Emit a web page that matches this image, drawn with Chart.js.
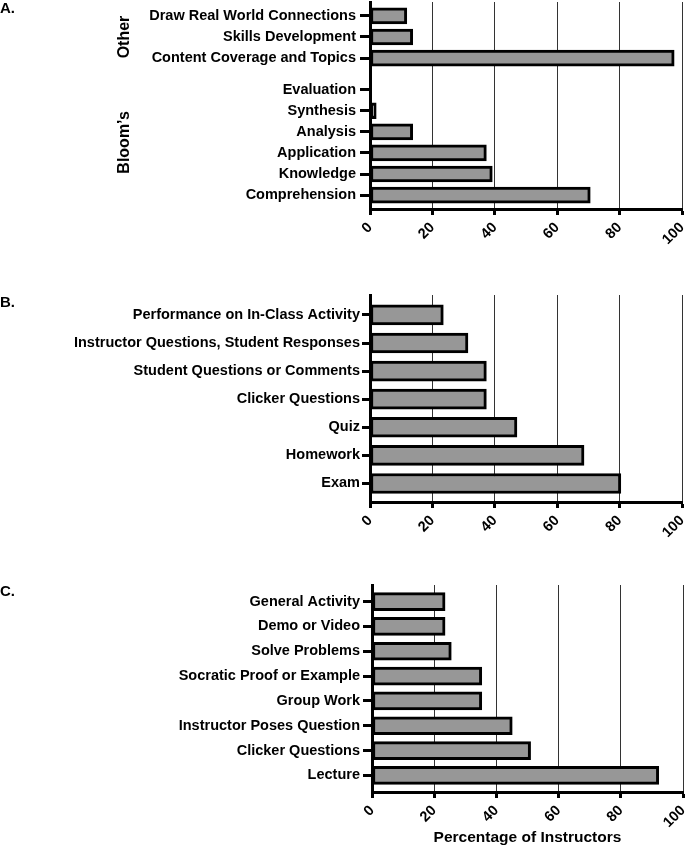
<!DOCTYPE html>
<html>
<head>
<meta charset="utf-8">
<script src="https://cdn.jsdelivr.net/npm/chart.js@4.4.0/dist/chart.umd.min.js"></script>
<style>
  body { margin: 0; background: #fff; }
  #wrap { position: relative; width: 685px; height: 847px; }
  #wrap canvas { position: absolute; left: 0; }
  .tag { position: absolute; left: 0; font: bold 15px "Liberation Sans", Arial, sans-serif; line-height: 15px; color: #000; }
</style>
</head>
<body>
<div id="wrap">
  <canvas id="chartA" width="685" height="250" style="top:0px"></canvas>
  <canvas id="chartB" width="685" height="260" style="top:280px"></canvas>
  <canvas id="chartC" width="685" height="287" style="top:560px"></canvas>
  <div class="tag" style="top:0px">A.</div>
  <div class="tag" style="top:294px">B.</div>
  <div class="tag" style="top:583px">C.</div>
</div>
<script>
// Datos (porcentaje de instructores)
const labelsA = ['Draw Real World Connections', 'Skills Development', 'Content Coverage and Topics',
  'Evaluation', 'Synthesis', 'Analysis', 'Application', 'Knowledge', 'Comprehension'];
const valuesA = [11.8, 13.7, 97.5, 0, 2.0, 13.7, 37.3, 39.2, 70.6];
const groupNamesA = ['Other', 'Bloom’s'];

const labelsB = ['Performance on In-Class Activity', 'Instructor Questions, Student Responses',
  'Student Questions or Comments', 'Clicker Questions', 'Quiz', 'Homework', 'Exam'];
const valuesB = [23.5, 31.4, 37.3, 37.3, 47.1, 68.6, 80.4];

const labelsC = ['General Activity', 'Demo or Video', 'Solve Problems', 'Socratic Proof or Example',
  'Group Work', 'Instructor Poses Question', 'Clicker Questions', 'Lecture'];
const valuesC = [23.5, 23.5, 25.5, 35.3, 35.3, 45.1, 51.0, 92.2];

const xTicks = [0, 20, 40, 60, 80, 100];
const xTitle = 'Percentage of Instructors';

// Posiciones de las filas (el panel A deja un hueco entre grupos)
const rowsA = [0, 1, 2, 3.5, 4.5, 5.5, 6.5, 7.5, 8.5];
const groupRowsA = [[0, 2], [3.5, 8.5]];

const FONT = '"Liberation Sans", Arial, Helvetica, sans-serif';
Chart.defaults.font.family = FONT;
Chart.defaults.color = '#000';

// Plugin para las etiquetas de grupo verticales ("Other", "Bloom's")
const groupLabels = {
  id: 'groupLabels',
  afterDraw(chart, args, opts) {
    if (!opts.names) return;
    const ctx = chart.ctx;
    const yScale = chart.scales.y;
    opts.names.forEach((name, i) => {
      const [a, b] = opts.rows[i];
      const mid = yScale.getPixelForValue((a + b) / 2);
      ctx.save();
      ctx.translate(opts.x, mid);
      ctx.rotate(-Math.PI / 2);
      ctx.textAlign = 'center';
      ctx.textBaseline = 'middle';
      ctx.font = 'bold 16px ' + FONT;
      ctx.fillStyle = '#000';
      ctx.fillText(name, 0, 0);
      ctx.restore();
    });
  }
};

/**
 * Crea un panel de barras horizontales
 */
const makePanel = (id, labels, values, rows, cfg) => {
  const ctx = document.getElementById(id).getContext('2d');
  return new Chart(ctx, {
    type: 'bar',
    data: {
      datasets: [{
        data: values.map((v, i) => ({ x: v, y: rows[i] })),
        backgroundColor: '#979797',
        borderColor: '#000',
        borderWidth: 3,
        borderSkipped: false,
        barThickness: cfg.barThickness
      }]
    },
    plugins: [groupLabels],
    options: {
      indexAxis: 'y',
      responsive: false,
      animation: false,
      layout: { padding: { top: cfg.top, left: 0, right: cfg.right, bottom: 0 } },
      plugins: {
        legend: { display: false },
        tooltip: { enabled: false },
        groupLabels: cfg.groups || {}
      },
      scales: {
        x: {
          type: 'linear',
          min: 0,
          max: 100,
          afterBuildTicks: s => { s.ticks = xTicks.map(v => ({ value: v })); },
          grid: { color: '#333', lineWidth: 1, tickColor: '#000', tickWidth: 3, tickLength: 6 },
          border: { color: '#000', width: 3 },
          ticks: { color: '#000', font: { size: 14.5, weight: 'bold' }, minRotation: 45, maxRotation: 45, padding: 4 },
          title: cfg.title ? { display: true, text: cfg.title, color: '#000', font: { size: 15.5, weight: 'bold' }, padding: { top: 0, bottom: 0 } } : { display: false },
          afterFit: s => { s.height = cfg.xHeight; s.paddingLeft = 0; s.paddingRight = 0; }
        },
        y: {
          type: 'linear',
          reverse: true,
          offset: false,
          min: cfg.yMin,
          max: cfg.yMax,
          afterBuildTicks: s => { s.ticks = rows.map(v => ({ value: v })); },
          ticks: { autoSkip: false, callback: (v, i) => labels[i], color: '#000', font: { size: 14.5, weight: 'bold' }, padding: cfg.labelPad },
          grid: { offset: false, drawOnChartArea: false, color: '#000', tickColor: '#000', tickWidth: 3, tickLength: cfg.tickLen },
          border: { color: '#000', width: 3 },
          afterFit: s => { s.width = cfg.yWidth; s.paddingTop = 0; s.paddingBottom = 0; }
        }
      }
    }
  });
};

makePanel('chartA', labelsA, valuesA, rowsA, {
  top: 2, right: 3, xHeight: 41, yWidth: 370, yMin: -0.66, yMax: 9.16, barThickness: 16,
  tickLen: 10, labelPad: 4,
  groups: { names: groupNamesA, rows: groupRowsA, x: 125 }
});
makePanel('chartB', labelsB, valuesB, labelsB.map((l, i) => i), {
  top: 15, right: 3, xHeight: 38, yWidth: 370, yMin: -0.71, yMax: 6.66, barThickness: 20,
  tickLen: 8, labelPad: 2
});
makePanel('chartC', labelsC, valuesC, labelsC.map((l, i) => i), {
  top: 25, right: 2, xHeight: 55, yWidth: 372, yMin: -0.67, yMax: 7.67, barThickness: 18,
  tickLen: 9, labelPad: 3,
  title: xTitle
});
</script>
</body>
</html>
